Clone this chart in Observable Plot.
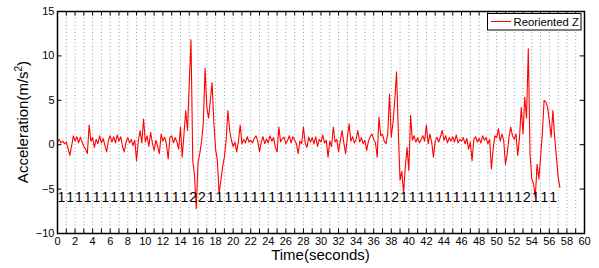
<!DOCTYPE html>
<html>
<head>
<meta charset="utf-8">
<script src="https://cdn.jsdelivr.net/npm/d3@7"></script>
<script src="https://cdn.jsdelivr.net/npm/@observablehq/plot@0.6"></script>
<style>
  html, body { margin: 0; padding: 0; background: white; }
</style>
</head>
<body>
<div id="chart"></div>
<script>
// ---- data ----
const sampleStep = 0.2; // seconds between samples
const reorientedZ = [
  0.3,0.6,0.2,0.4,0.1,
  0.3,-0.4,-1.2,-0.2,1.0,
  0.4,0.9,0.2,0.85,0.3,
  -0.2,-0.5,-1.0,2.2,0.4,
  0.8,-0.3,0.6,0.1,1.0,
  0.2,0.7,-0.1,-0.8,0.5,
  1.0,0.3,0.9,0.2,1.1,
  0.4,0.9,-0.2,-0.8,0.3,
  0.8,0.2,0.6,-0.1,0.5,
  -1.8,0.4,1.6,0.2,2.9,
  0.3,1.0,-0.2,1.4,0.2,
  -0.65,0.5,-0.2,-1.0,1.2,
  0.4,0.85,0.1,-1.6,0.85,
  1.0,0.2,0.8,0.3,-0.5,
  2.0,-1.4,1.2,3.85,1.6,
  6.9,11.8,-1.8,-3.5,-7.2,
  -2.0,-1.0,0.4,2.35,8.6,
  4.2,3.0,5.0,7.0,2.5,
  -0.5,-1.8,-5.5,-4.0,-2.5,
  -1.4,0.5,3.85,1.6,0.5,
  -0.2,0.3,-0.8,0.4,2.2,
  0.1,0.6,0.2,0.9,0.3,
  0.5,0.2,0.7,1.0,0.4,
  -0.8,0.3,0.9,0.1,0.65,
  0.2,1.0,0.4,0.8,-0.3,
  -0.8,2.0,0.3,0.7,0.85,
  0.1,0.5,1.0,0.2,0.9,
  0.5,0.1,-1.0,0.4,0.1,
  2.0,0.2,-0.3,0.85,0.3,
  0.8,0.1,0.9,-0.2,0.6,
  0.3,1.1,0.2,0.5,-1.4,
  0.4,-0.2,2.0,0.3,0.6,
  -0.8,0.5,1.6,0.2,-1.0,
  0.8,2.35,0.4,0.9,0.2,
  0.6,1.6,0.3,0.8,0.1,
  0.5,-0.65,0.4,0.9,1.2,
  0.6,0.2,-1.4,3.1,1.0,
  1.2,0.4,0.1,1.2,5.7,
  0.85,2.5,5.0,8.2,1.5,
  -4.0,-3.0,-5.5,-2.5,-0.3,
  -2.9,3.3,0.5,1.0,0.3,
  0.8,0.2,0.6,1.0,0.4,
  2.2,0.1,1.2,0.3,-1.4,
  0.4,0.85,0.3,0.9,1.6,
  0.5,1.0,0.2,0.8,0.4,
  0.9,0.3,1.1,0.2,0.6,
  0.4,0.8,0.1,0.7,-0.5,
  0.3,-1.8,0.6,0.9,0.3,
  0.7,0.2,1.0,0.5,0.8,
  0.1,0.6,-2.7,-0.5,1.0,
  0.8,1.8,0.4,1.2,0.5,
  -2.2,-1.0,0.8,2.0,1.0,
  0.6,1.2,-1.2,0.8,4.2,
  1.2,5.35,3.0,10.8,-1.0,
  -3.85,-4.4,-5.9,-2.2,-3.85,
  -1.4,1.2,5.0,4.8,4.2,
  2.7,0.85,3.85,0.85,-1.4,
  -3.65,-4.8
];
// per-second activity labels (second 0 .. 56)
const activityLabels = [
  1,1,1,1,1,1,1,1,1,1,1,1,1,1,1, // 0-14
  2,2,                           // 15-16
  1,1,1,1,1,1,1,1,1,1,1,1,1,1,1,1,1,1,1,1,1, // 17-37
  2,                             // 38
  1,1,1,1,1,1,1,1,1,1,1,1,1,1,   // 39-52
  2,                             // 53
  1,1,1                          // 54-56
];
const labelLevel = -6;
const xTickLabels = [0,2,4,6,8,10,12,14,16,18,20,22,24,26,28,30,32,34,36,38,40,42,44,46,48,50,52,54,56,58,60];
const xTickMarks = d3.range(0, 61, 1);
const xGrid = d3.range(1, 60, 1);
const yTicks = [-10,-5,0,5,10,15];
const xDomain = [0, 60];
const yDomain = [-10, 15];
const seriesName = "Reoriented Z";
const xTitle = "Time(seconds)";

// ---- derived tables ----
const series = reorientedZ.map((v, i) => ({t: +(i * sampleStep).toFixed(2), v}));
const labels = activityLabels.map((c, i) => ({t: i, c: String(c)}));

const tickLenY = 0.5;   // in y units (~4.4px)
const tickLenX = 0.5;   // in x units (~4.4px)

const chart = Plot.plot({
  width: 599,
  height: 268,
  marginLeft: 57,
  marginRight: 15,
  marginTop: 11,
  marginBottom: 35,
  style: {fontFamily: "'Liberation Sans', Arial, Helvetica, sans-serif", fontSize: "11px", color: "black", background: "white"},
  x: {domain: xDomain, ticks: xTickLabels, tickFormat: d => String(d), tickSize: 0, tickPadding: 4, label: null},
  y: {domain: yDomain, ticks: yTicks, tickSize: 0, tickPadding: 3, label: null},
  marks: [
    Plot.ruleX(xGrid, {stroke: "#9a9a9a", strokeWidth: 1, strokeDasharray: "1,2.5"}),
    Plot.line(series, {x: "t", y: "v", stroke: "#ff0000", strokeWidth: 1.1}),
    Plot.text(labels, {x: "t", y: () => labelLevel, text: "c", textAnchor: "start", fontSize: 14, fill: "black", dx: 0}),
    // inward tick marks (MATLAB style)
    Plot.ruleX(xTickMarks, {y1: yDomain[0], y2: yDomain[0] + tickLenY, stroke: "black", strokeWidth: 1}),
    Plot.ruleX(xTickMarks, {y1: yDomain[1], y2: yDomain[1] - tickLenY, stroke: "black", strokeWidth: 1}),
    Plot.ruleY(yTicks, {x1: xDomain[0], x2: xDomain[0] + tickLenX, stroke: "black", strokeWidth: 1}),
    Plot.ruleY(yTicks, {x1: xDomain[1], x2: xDomain[1] - tickLenX, stroke: "black", strokeWidth: 1}),
    Plot.frame({stroke: "black", strokeWidth: 1.5})
  ]
});

document.getElementById("chart").appendChild(chart);

// axis titles and legend
const svg = d3.select(chart);
const font = "'Liberation Sans', Arial, Helvetica, sans-serif";
svg.append("text")
  .attr("x", 320.5).attr("y", 260)
  .attr("text-anchor", "middle")
  .attr("font-family", font).attr("font-size", 15).attr("fill", "black")
  .text(xTitle);

const yt = svg.append("text")
  .attr("transform", "translate(28,122) rotate(-90)")
  .attr("text-anchor", "middle")
  .attr("font-family", font).attr("font-size", 15).attr("fill", "black");
yt.append("tspan").text("Acceleration(m/s");
yt.append("tspan").attr("font-size", 10).attr("dy", -6).text("2");
yt.append("tspan").attr("dy", 6).text(")");

const lg = svg.append("g");
lg.append("rect").attr("x", 487.5).attr("y", 13.5).attr("width", 93.5).attr("height", 16.5)
  .attr("fill", "white").attr("stroke", "black").attr("stroke-width", 1);
lg.append("line").attr("x1", 491).attr("x2", 511).attr("y1", 21.5).attr("y2", 21.5)
  .attr("stroke", "#ff0000").attr("stroke-width", 1);
lg.append("text").attr("x", 513.5).attr("y", 25.5)
  .attr("text-anchor", "start")
  .attr("font-family", font).attr("font-size", 11.3).attr("fill", "black")
  .text(seriesName);
</script>
</body>
</html>
